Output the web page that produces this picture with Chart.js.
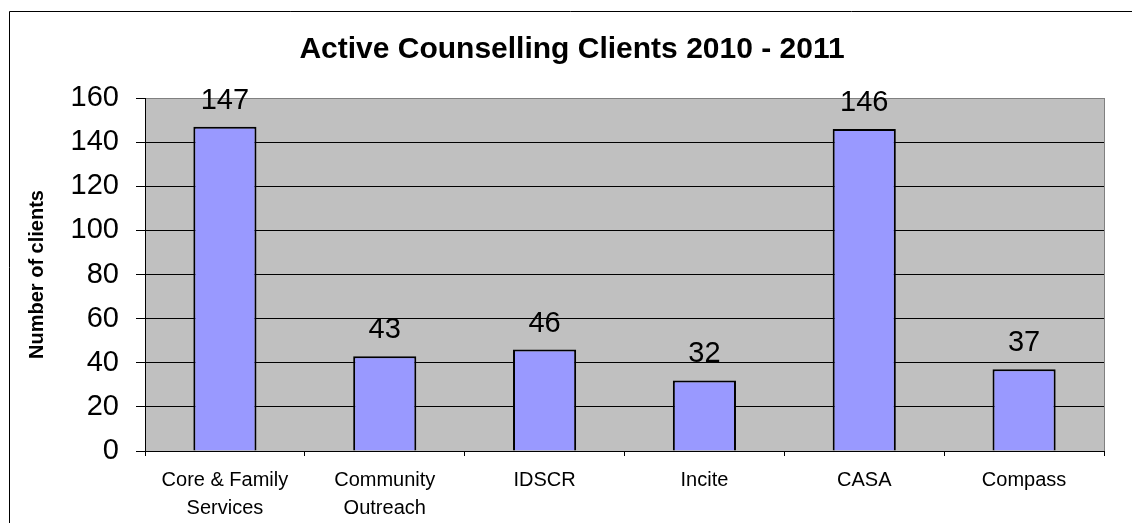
<!DOCTYPE html>
<html lang="en">
<head>
  <meta charset="UTF-8">
  <title>Active Counselling Clients 2010 - 2011</title>
  <script src="https://cdn.jsdelivr.net/npm/chart.js"></script>
  <style>
    body {
      margin: 0;
      background: #fff;
    }
    canvas {
      display: block;
    }
  </style>
</head>
<body>
<canvas id="grafico" width="1132" height="523"></canvas>

<script>
  // dados do gráfico
  const tituloGrafico = 'Active Counselling Clients 2010 - 2011';
  const tituloEixoY = 'Number of clients';
  const categorias = [
    ['Core & Family', 'Services'],
    ['Community', 'Outreach'],
    'IDSCR',
    'Incite',
    'CASA',
    'Compass'
  ];
  const clientes = [147, 43, 46, 32, 146, 37];
  const eixoYMax = 160;
  const eixoYPasso = 20;

  const fonte = '"Liberation Sans", Arial, sans-serif';
  Chart.defaults.font.family = fonte;
  Chart.defaults.color = '#000';

  // fundo cinza, moldura externa e título
  const fundoPlugin = {
    id: 'fundo',
    beforeDraw(chart) {
      const {ctx, chartArea: a} = chart;
      ctx.save();
      ctx.fillStyle = '#c0c0c0';
      ctx.fillRect(a.left, a.top, a.right - a.left, a.bottom - a.top);
      ctx.strokeStyle = '#000';
      ctx.lineWidth = 1;
      ctx.beginPath();
      ctx.moveTo(9.5, chart.height);
      ctx.lineTo(9.5, 11.5);
      ctx.lineTo(chart.width, 11.5);
      ctx.stroke();
      ctx.font = 'bold 30px ' + fonte;
      ctx.fillStyle = '#000';
      ctx.textAlign = 'center';
      ctx.textBaseline = 'middle';
      ctx.fillText(tituloGrafico, 572, 50);
      ctx.restore();
    },
    beforeDatasetsDraw(chart) {
      const {ctx, chartArea: a} = chart;
      ctx.save();
      ctx.strokeStyle = '#808080';
      ctx.lineWidth = 1;
      ctx.beginPath();
      ctx.moveTo(Math.round(a.right) + 0.5, a.top);
      ctx.lineTo(Math.round(a.right) + 0.5, a.bottom);
      ctx.stroke();
      ctx.restore();
    }
  };

  // valores acima das barras
  const rotulosPlugin = {
    id: 'rotulos',
    afterDatasetsDraw(chart) {
      const {ctx} = chart;
      const meta = chart.getDatasetMeta(0);
      ctx.save();
      ctx.font = '29px ' + fonte;
      ctx.fillStyle = '#000';
      ctx.textAlign = 'center';
      ctx.textBaseline = 'alphabetic';
      meta.data.forEach((bar, i) => {
        ctx.fillText(String(clientes[i]), bar.x, bar.y - 18);
      });
      ctx.restore();
    }
  };

  new Chart(document.getElementById('grafico'), {
    type: 'bar',
    data: {
      labels: categorias,
      datasets: [{
        data: clientes,
        backgroundColor: '#9999ff',
        borderColor: '#000',
        borderWidth: 2,
        barPercentage: 0.395,
        categoryPercentage: 1
      }]
    },
    options: {
      responsive: false,
      devicePixelRatio: 1,
      animation: false,
      layout: {
        padding: {top: 98, right: 28, left: 0, bottom: 0}
      },
      plugins: {
        legend: {display: false},
        tooltip: {enabled: false}
      },
      scales: {
        x: {
          afterFit(axis) { axis.height = 72; },
          grid: {
            drawOnChartArea: false,
            color: '#000',
            tickLength: 5,
            offset: true
          },
          border: {color: '#000', width: 1},
          ticks: {
            font: {size: 20, lineHeight: 1.4},
            padding: 10,
            maxRotation: 0,
            autoSkip: false
          }
        },
        y: {
          min: 0,
          max: eixoYMax,
          afterFit(axis) { axis.width = 145; },
          grid: {
            color: ctx => ctx.tick && ctx.tick.value === eixoYMax ? '#808080' : '#000',
            tickColor: '#000',
            tickLength: 9,
            lineWidth: 1
          },
          border: {color: '#000', width: 1},
          ticks: {
            stepSize: eixoYPasso,
            font: {size: 29},
            padding: 17
          },
          title: {
            display: true,
            text: tituloEixoY,
            font: {size: 20, weight: 'bold'},
            padding: {top: 25, bottom: 0}
          }
        }
      }
    },
    plugins: [fundoPlugin, rotulosPlugin]
  });
</script>
</body>
</html>
